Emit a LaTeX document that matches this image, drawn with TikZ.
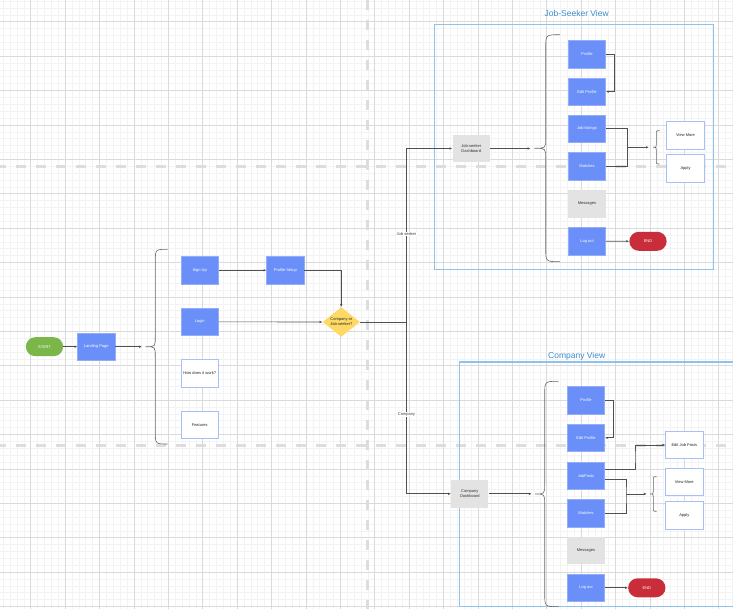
\documentclass[tikz,border=0pt]{standalone}
\usepackage{fontspec}
\setmainfont{Liberation Sans}
\usetikzlibrary{arrows.meta,shapes.geometric}
\definecolor{nblue}{HTML}{6B8FF8}
\definecolor{nbluebd}{HTML}{93ADF8}
\definecolor{ngreen}{HTML}{7AB648}
\definecolor{nred}{HTML}{C92D39}
\definecolor{ngray}{HTML}{E3E3E3}
\definecolor{nyellow}{HTML}{FFD966}
\definecolor{wbd}{HTML}{A9BFF8}
\definecolor{cont}{HTML}{8EC3EE}
\definecolor{ttl}{HTML}{3C8DCB}
\definecolor{gmin}{HTML}{F3F3F3}
\definecolor{gmaj}{HTML}{DADADA}
\definecolor{pbreak}{HTML}{DDDDDD}
\definecolor{conn}{HTML}{505050}
\tikzset{
  box/.style={rectangle, minimum width=37.3pt, minimum height=27.6pt, inner sep=0.5pt, align=center, font=\fontsize{4}{4.8}\selectfont},
  bluebox/.style={box, fill=nblue, draw=nbluebd, line width=0.5pt, text=white},
  whitebox/.style={box, fill=white, draw=wbd, line width=0.8pt, text=black!85},
  graybox/.style={box, fill=ngray, text=black!80},
  pill/.style={box, minimum height=19pt, rounded corners=9.5pt, text=white},
  decision/.style={diamond, fill=nyellow, minimum width=37.3pt, minimum height=28pt, inner sep=0pt, align=center, font=\fontsize{4}{4.8}\selectfont, text=black!85},
  link/.style={draw=conn, line width=0.65pt, -{Latex[length=2.8pt,width=2.4pt]}},
  plainline/.style={draw=conn, line width=0.65pt},
  bracestyle/.style={draw=black!60, line width=0.6pt},
  lbl/.style={font=\fontsize{4}{4.8}\selectfont, text=black!75, fill=white, inner sep=0.6pt},
  minorgrid/.style={draw=gmin, line width=0.5pt},
  majorgrid/.style={draw=gmaj, line width=0.7pt},
  pagebreak/.style={draw=pbreak, line width=3pt, dash pattern=on 10pt off 10pt},
  container/.style={draw=cont, line width=1.1pt},
  viewtitle/.style={font=\fontsize{8.5}{10}\selectfont, text=ttl},
}
\begin{document}
\begin{tikzpicture}[x=1pt,y=-1pt]
\useasboundingbox (0,0) rectangle (733,609);
\clip (0,0) rectangle (733,609);
\fill[white] (0,0) rectangle (733,609);
% grid
\foreach \k in {-5,...,103} {\draw[minorgrid] ({30.7+\k*6.88},0) -- ({30.7+\k*6.88},609);}
\foreach \k in {-4,...,86} {\draw[minorgrid] (0,{21.7+\k*6.88}) -- (733,{21.7+\k*6.88});}
\foreach \k in {-1,...,21} {\draw[majorgrid] ({30.7+\k*34.4},0) -- ({30.7+\k*34.4},609);}
\foreach \k in {-1,...,18} {\draw[majorgrid] (0,{21.7+\k*34.4}) -- (733,{21.7+\k*34.4});}
% page breaks
\draw[pagebreak] (-4,166.7) -- (740,166.7);
\draw[pagebreak] (-4,445) -- (740,445);
\draw[pagebreak] (367.7,0) -- (367.7,612);
% containers
\draw[container] (434.3,24.7) rectangle (713.3,269.3);
\node[viewtitle] (jstitle) at (576.7,13) {Job-Seeker View};
\draw[container] (459.7,362) rectangle (745,606.7);
\node[viewtitle] (ctitle) at (576.7,356.7) {Company View};
% left part
\node[pill, fill=ngreen] (start) at (44.5,346.7) {START};
\node[bluebox] (landing) at (96.3,346.7) {Landing Page};
\node[bluebox] (signup) at (199.7,270.3) {Sign Up};
\node[bluebox] (login) at (199.7,321.8) {Login};
\node[whitebox] (how) at (199.7,373.2) {How does it work?};
\node[whitebox] (features) at (199.7,424.8) {Features};
\node[bluebox] (psetup) at (285.3,270.3) {Profile Setup};
\node[decision] (dec) at (341.3,322) {Company or\\Job-seeker?};
% job seeker view
\node[graybox] (jsd) at (471.2,148.5) {Job-seeker\\Dashboard};
\node[bluebox] (jsprofile) at (587,54) {Profile};
\node[bluebox] (jsedit) at (587,91.7) {Edit Profile};
\node[bluebox] (jslist) at (587,128.8) {Job listings};
\node[bluebox] (jsmatch) at (587,166.2) {Matches};
\node[graybox] (jsmsg) at (587,203.8) {Messages};
\node[bluebox] (jslogout) at (587,241.2) {Log out};
\node[pill, fill=nred] (jsend) at (648,241.3) {END};
\node[whitebox] (jsview) at (685.5,135.5) {View More};
\node[whitebox] (jsapply) at (685.5,168.3) {Apply};
% company view
\node[graybox] (cd) at (469.8,493.8) {Company\\Dashboard};
\node[bluebox] (cprofile) at (586,400.5) {Profile};
\node[bluebox] (cedit) at (586,437.8) {Edit Profile};
\node[bluebox] (cposts) at (586,475.7) {JobPosts};
\node[bluebox] (cmatch) at (586,513) {Matches};
\node[graybox] (cmsg) at (586,550.5) {Messages};
\node[bluebox] (clogout) at (586,587.8) {Log out};
\node[pill, fill=nred] (cend) at (646.8,587.8) {END};
\node[whitebox] (cedjp) at (684.3,445) {Edit Job Posts};
\node[whitebox] (cview) at (684.3,482) {View More};
\node[whitebox] (capply) at (684.3,515.2) {Apply};
% braces
\draw[bracestyle] (167.7,249.3) .. controls (155.3,249.3) .. (155.3,262) -- (155.3,336.7) .. controls (155.3,346.7) .. (145.6,346.7) .. controls (155.3,346.7) .. (155.3,356.7) -- (155.3,431.3) .. controls (155.3,444) .. (167.7,444);
\coordinate (lbt) at (142,346.7);
\draw[bracestyle] (560,34.7) .. controls (545.7,34.7) .. (545.7,48) -- (545.7,138.3) .. controls (545.7,148.3) .. (534.3,148.3) .. controls (545.7,148.3) .. (545.7,158.3) -- (545.7,248.4) .. controls (545.7,261.7) .. (560,261.7);
\coordinate (jbt) at (530.5,148.5);
\draw[bracestyle] (558.7,381.3) .. controls (544.7,381.3) .. (544.7,394.6) -- (544.7,484) .. controls (544.7,494) .. (535,494) .. controls (544.7,494) .. (544.7,504) -- (544.7,593.4) .. controls (544.7,606.7) .. (558.7,606.7);
\coordinate (cbt) at (531.7,493.8);
\draw[bracestyle] (659.5,130.7) .. controls (656.3,130.7) .. (656.3,134) -- (656.3,144.5) .. controls (656.3,147.3) .. (653,147.3) .. controls (656.3,147.3) .. (656.3,150.1) -- (656.3,160.7) .. controls (656.3,164) .. (659.5,164);
\coordinate (jsbt) at (648.8,147.3);
\draw[bracestyle] (656.5,476.7) .. controls (653.3,476.7) .. (653.3,480) -- (653.3,491.2) .. controls (653.3,494) .. (650,494) .. controls (653.3,494) .. (653.3,496.8) -- (653.3,508) .. controls (653.3,511.3) .. (656.5,511.3);
\coordinate (cbt2) at (646.7,494);
% connectors left
\draw[link] (start) -- (landing);
\draw[link] (landing) -- (lbt);
\draw[link] (signup) -- (psetup);
\draw[link] (psetup.east) -| (dec.north);
\draw[link] (login) -- (dec.west);
\coordinate (j1) at (406.7,322);
\draw[plainline] (dec.east) -- (j1);
\draw[link] (j1) |- (jsd.west);
\draw[link] (j1) |- (cd.west);
\node[lbl] (lbljs) at (406.5,234.3) {Job seeker};
\node[lbl] (lblc) at (406.5,414.7) {Company};
% job seeker connectors
\draw[link] (jsd) -- (jbt);
\draw[link] (jsprofile.east) -- ++(8.6,0) |- (jsedit.east);
\coordinate (jj) at (627.7,147.3);
\draw[plainline] (jslist.east) -| (jj) |- (jsmatch.east);
\draw[link] (jj) -- (jsbt);
\draw[link] (jslogout) -- (jsend);
% company connectors
\draw[link] (cd) -- (cbt);
\draw[link] (cprofile.east) -- ++(8,0) |- (cedit.east);
\coordinate (cc1) at (635,457);
\draw[link] ([yshift=6.7pt]cposts.east) -| (cc1) |- (cedjp.west);
\coordinate (cj) at (626,494);
\draw[plainline] ([yshift=-3.6pt]cposts.east) -| (cj) |- (cmatch.east);
\draw[link] (cj) -- (cbt2);
\draw[link] (clogout) -- (cend);
\end{tikzpicture}
\end{document}
